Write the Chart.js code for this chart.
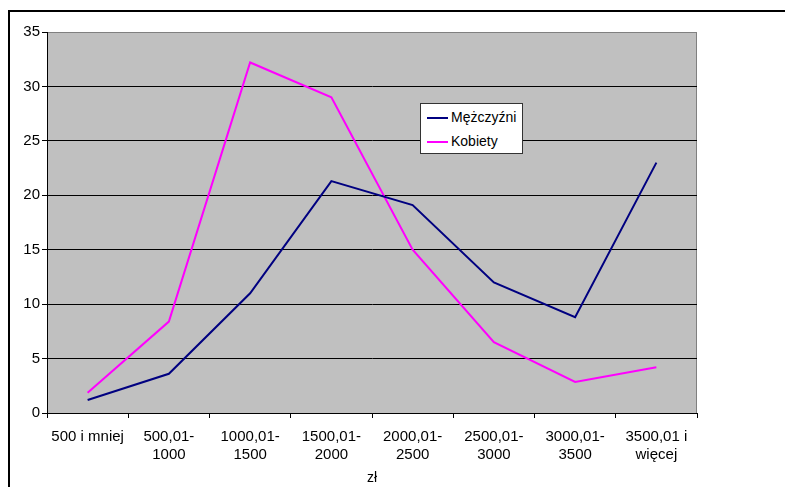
<!DOCTYPE html>
<html>
<head>
<meta charset="utf-8">
<script src="https://cdn.jsdelivr.net/npm/chart.js@4/dist/chart.umd.min.js"></script>
<style>
  html, body { margin: 0; padding: 0; background: #fff; }
  #wrap { position: relative; width: 785px; height: 487px; overflow: hidden; }
  #frame { position: absolute; left: 8px; top: 10px; width: 900px; height: 600px;
           border-top: 2px solid #000; border-left: 2px solid #000; }
  #legend { position: absolute; left: 420px; top: 103px; width: 101px; height: 49px;
            background: #fff; border: 1px solid #333; font: 14px "Liberation Sans", Arial, sans-serif; }
  #legend .row { position: absolute; left: 6px; height: 18px; line-height: 18px; }
  #legend .sw { display: inline-block; width: 21px; height: 2px; vertical-align: middle; margin-right: 3px; }
</style>
</head>
<body>
<div id="wrap">
  <div id="frame"></div>
  <canvas id="chart" width="785" height="487"></canvas>
  <div id="legend"></div>
</div>
<script>
// income brackets (zł)
const categories = [
  '500 i mniej', ['500,01-', '1000'], ['1000,01-', '1500'], ['1500,01-', '2000'],
  ['2000,01-', '2500'], ['2500,01-', '3000'], ['3000,01-', '3500'], ['3500,01 i', 'więcej']
];
const men = [1.2, 3.6, 11.0, 21.3, 19.1, 12.0, 8.8, 23.0];
const women = [1.85, 8.4, 32.2, 29.0, 15.0, 6.5, 2.85, 4.2];
const yTicks = [0, 5, 10, 15, 20, 25, 30, 35];

const FONT = '"Liberation Sans", Arial, sans-serif';

// gray plot background with a gray border, drawn under the grid
const plotBg = {
  id: 'plotBg',
  beforeDraw(chart) {
    const { ctx, chartArea: a } = chart;
    ctx.save();
    ctx.fillStyle = '#c0c0c0';
    ctx.fillRect(a.left, a.top, a.right - a.left, a.bottom - a.top);
    ctx.strokeStyle = '#808080';
    ctx.lineWidth = 1;
    ctx.strokeRect(a.left + 0.5, a.top + 0.5, a.right - a.left - 1, a.bottom - a.top);
    ctx.restore();
  }
};

const chart = new Chart(document.getElementById('chart').getContext('2d'), {
  type: 'line',
  data: {
    labels: categories,
    datasets: [
      { label: 'Mężczyźni', data: men, borderColor: '#000080', borderWidth: 2, pointRadius: 0, tension: 0, fill: false },
      { label: 'Kobiety', data: women, borderColor: '#ff00ff', borderWidth: 2, pointRadius: 0, tension: 0, fill: false }
    ]
  },
  options: {
    responsive: false,
    animation: false,
    layout: { padding: { left: 8, top: 32, right: 88, bottom: 0 } },
    plugins: { legend: { display: false }, tooltip: { enabled: false } },
    scales: {
      x: {
        offset: true,
        grid: { offset: true, drawOnChartArea: false, drawTicks: true, tickLength: 5, color: '#000' },
        border: { color: '#000', width: 1 },
        ticks: { color: '#000', font: { family: FONT, size: 15, lineHeight: 1.25 }, maxRotation: 0, autoSkip: false, padding: 9 },
        title: { display: true, text: 'zł', color: '#000', font: { family: FONT, size: 14 }, padding: { top: 2, bottom: 0 } },
        afterFit(s) { s.height = 74; }
      },
      y: {
        min: 0, max: 35,
        afterBuildTicks(s) { s.ticks = yTicks.map(v => ({ value: v })); },
        grid: { color: c => (c.tick && c.tick.value === 35 ? '#808080' : '#000'), tickColor: '#000', tickLength: 5, lineWidth: 1 },
        border: { color: '#000', width: 1 },
        ticks: { color: '#000', font: { family: FONT, size: 15 }, padding: 2 },
        afterFit(s) { s.width = 39; }
      }
    }
  },
  plugins: [plotBg]
});

// legend box built from the datasets
const legend = document.getElementById('legend');
chart.data.datasets.forEach((d, i) => {
  const row = document.createElement('div');
  row.className = 'row';
  row.style.top = (4 + i * 24) + 'px';
  row.innerHTML = '<span class="sw" style="background:' + d.borderColor + '"></span>' + d.label;
  legend.appendChild(row);
});
</script>
</body>
</html>
